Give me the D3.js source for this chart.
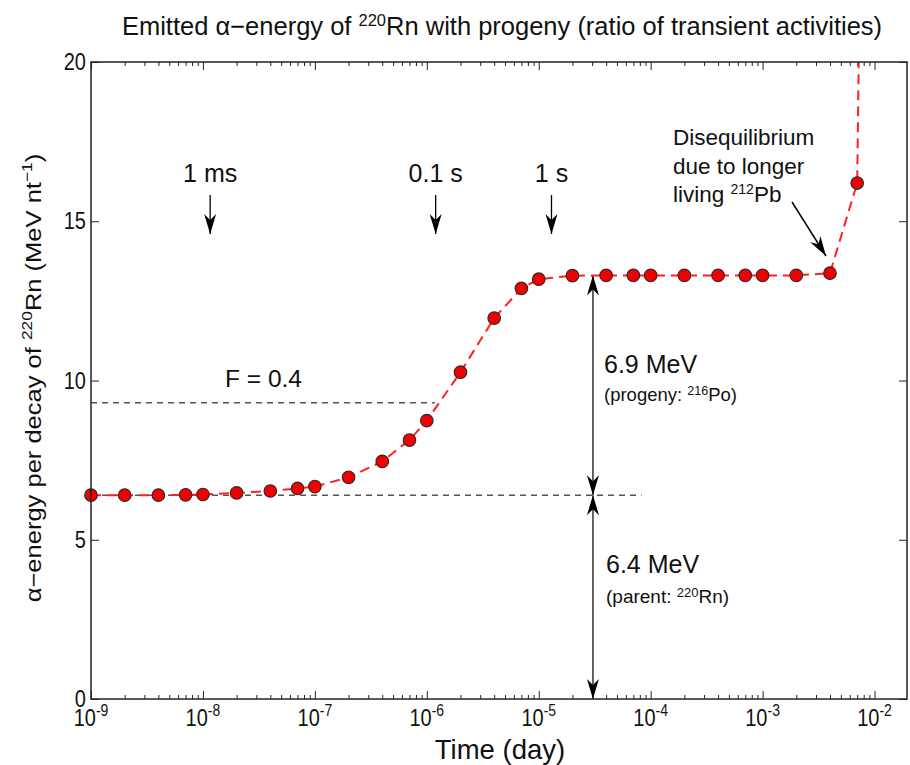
<!DOCTYPE html>
<html><head><meta charset="utf-8">
<script src="https://cdnjs.cloudflare.com/ajax/libs/d3/7.8.5/d3.min.js"></script>
<style>
body{margin:0;background:#fff;}
svg{display:block;}
text{font-family:"Liberation Sans",Arial,sans-serif;fill:#111;}
</style></head>
<body>
<svg id="chart" width="910" height="765"></svg>
<script>
// ---- data ----
const times = [1e-9,2e-9,4e-9,7e-9,1e-8,2e-8,4e-8,7e-8,1e-7,2e-7,4e-7,7e-7,1e-6,2e-6,4e-6,7e-6,1e-5,2e-5,4e-5,7e-5,1e-4,2e-4,4e-4,7e-4,1e-3,2e-3,4e-3,7e-3];
const energy = [6.40,6.40,6.40,6.41,6.42,6.47,6.53,6.61,6.67,6.96,7.46,8.13,8.74,10.26,11.96,12.89,13.18,13.29,13.30,13.30,13.30,13.30,13.30,13.30,13.30,13.30,13.37,16.2];
const tailTimes = [1e-2];
const tailEnergy = [60];
const xTickValues = [1e-9,1e-8,1e-7,1e-6,1e-5,1e-4,1e-3,1e-2];
const xTickExps = ["-9","-8","-7","-6","-5","-4","-3","-2"];
const yTickValues = [0,5,10,15,20];
const timeMarkLabels = ["1 ms","0.1 s","1 s"];
const timeMarkTimes = [1.16e-8, 1.2e-6, 1.3e-5];
const fLevel = 9.3, fEnd = 1.18e-6;
const parentLevel = 6.4, parentEnd = 8.3e-5;
const plateau = 13.3, arrowTime = 3.05e-5;

const svg = d3.select("#chart");
const m = {l:91, r:3, t:62, b:66};
const W = 910, H = 765;
const x = d3.scaleLog().domain([1e-9, 0.0195]).range([m.l, W - m.r]);
const y = d3.scaleLinear().domain([0, 20]).range([H - m.b, m.t]);

const defs = svg.append("defs");
defs.append("clipPath").attr("id","clip").append("rect")
  .attr("x", m.l).attr("y", m.t).attr("width", W-m.r-m.l).attr("height", H-m.b-m.t);
defs.append("marker").attr("id","ahBig").attr("viewBox","0 0 10 10").attr("refX",10).attr("refY",5)
  .attr("markerWidth",20).attr("markerHeight",20).attr("markerUnits","userSpaceOnUse").attr("orient","auto-start-reverse")
  .append("path").attr("d","M0,2 L10,5 L0,8 L3,5 Z").attr("fill","#000");

// title
const title = svg.append("text").attr("x", 502).attr("y", 35).attr("text-anchor","middle").attr("font-size", 25.5);
title.append("tspan").text("Emitted α−energy of ");
title.append("tspan").attr("dy",-9).attr("font-size",16.5).text("220");
title.append("tspan").attr("dy",9).text("Rn with progeny (ratio of transient activities)");

// axes ticks (inside, all sides)
const minor = [];
for (let e=-9; e<=-2; e++) for (let k=2;k<=9;k++){ const v=k*Math.pow(10,e); if (v<=0.0195) minor.push(v); }
svg.append("g").attr("transform",`translate(0,${H-m.b})`).call(d3.axisBottom(x).tickValues(minor).tickSize(-4).tickFormat(""));
svg.append("g").attr("transform",`translate(0,${H-m.b})`).call(d3.axisBottom(x).tickValues(xTickValues).tickSize(-8).tickFormat(""));
svg.append("g").attr("transform",`translate(0,${m.t})`).call(d3.axisTop(x).tickValues(minor).tickSize(-4).tickFormat(""));
svg.append("g").attr("transform",`translate(0,${m.t})`).call(d3.axisTop(x).tickValues(xTickValues).tickSize(-8).tickFormat(""));
const gy = svg.append("g").attr("transform",`translate(${m.l},0)`);
gy.call(d3.axisLeft(y).tickValues(yTickValues).tickSize(-8).tickFormat(""));
svg.append("g").attr("transform",`translate(${W-m.r},0)`).call(d3.axisRight(y).tickValues(yTickValues).tickSize(-8).tickFormat(""));
svg.selectAll(".domain").remove();
svg.selectAll(".tick line").attr("stroke","#222").attr("stroke-width",1);

// y tick labels (DejaVu, slightly tall)
yTickValues.forEach(v=>{
  svg.append("text").attr("transform",`translate(${m.l-5},${y(v)+8}) scale(1,1.18)`)
    .attr("text-anchor","end").attr("font-family","DejaVu Sans, sans-serif").attr("font-size",20).text(v);
});
// x tick labels with superscripts
xTickValues.forEach((v,i)=>{
  const t = svg.append("text").attr("transform",`translate(${x(v)},${H-m.b+27}) scale(1,1.18)`).attr("text-anchor","middle")
    .attr("font-family","DejaVu Sans, sans-serif").attr("font-size",20);
  t.append("tspan").text("10");
  t.append("tspan").attr("dy",-8.5).attr("font-size",14).text(xTickExps[i]);
});

// axis labels
svg.append("text").attr("x", 500).attr("y", 759).attr("text-anchor","middle").attr("font-size",27.5).text("Time (day)");
const yl = svg.append("text").attr("transform","translate(41,378) rotate(-90) scale(1.16,1)").attr("text-anchor","middle").attr("font-size",22);
yl.append("tspan").text("α−energy per decay of ");
yl.append("tspan").attr("dy",-9).attr("font-size",15).text("220");
yl.append("tspan").attr("dy",9).text("Rn (MeV nt");
yl.append("tspan").attr("dy",-9).attr("font-size",15).text("−1");
yl.append("tspan").attr("dy",9).text(")");

// reference dashed lines
const gray = "#555";
svg.append("line").attr("x1", x(1e-9)).attr("x2", x(fEnd)).attr("y1", y(fLevel)).attr("y2", y(fLevel))
  .attr("stroke",gray).attr("stroke-width",1.5).attr("stroke-dasharray","6,5");
svg.append("line").attr("x1", x(1e-9)).attr("x2", x(parentEnd)).attr("y1", y(parentLevel)).attr("y2", y(parentLevel))
  .attr("stroke",gray).attr("stroke-width",1.5).attr("stroke-dasharray","6,5");

// double arrows
[[plateau,parentLevel],[parentLevel,0]].forEach(([a,b])=>{
  svg.append("line").attr("x1", x(arrowTime)).attr("x2", x(arrowTime)).attr("y1", y(a)).attr("y2", y(b))
    .attr("stroke","#333").attr("stroke-width",1.5).attr("marker-start","url(#ahBig)").attr("marker-end","url(#ahBig)");
});

// data line + markers
const pts = times.map((t,i)=>[t, energy[i]]);
const linePts = pts.concat(tailTimes.map((t,i)=>[t, tailEnergy[i]]));
svg.append("g").attr("clip-path","url(#clip)").append("path").datum(linePts)
  .attr("d", d3.line().x(d=>x(d[0])).y(d=>y(d[1])))
  .attr("fill","none").attr("stroke","#ff2020").attr("stroke-width",2).attr("stroke-dasharray","10,6");
svg.append("g").selectAll("circle").data(pts).join("circle")
  .attr("cx", d=>x(d[0])).attr("cy", d=>y(d[1])).attr("r",6.3)
  .attr("fill","#f00000").attr("stroke","#2a2a2a").attr("stroke-width",1.1);

// frame
svg.append("rect").attr("x", m.l).attr("y", m.t).attr("width", W-m.r-m.l).attr("height", H-m.b-m.t)
  .attr("fill","none").attr("stroke","#222").attr("stroke-width",1.5);

// time marks
timeMarkLabels.forEach((lab,i)=>{
  const cx = x(timeMarkTimes[i]);
  svg.append("text").attr("x", cx).attr("y", 182).attr("text-anchor","middle").attr("font-size",25).text(lab);
  svg.append("line").attr("x1", cx).attr("x2", cx).attr("y1", 195).attr("y2", 234)
    .attr("stroke","#000").attr("stroke-width",1.3).attr("marker-end","url(#ahBig)");
});

// F label
svg.append("text").attr("x", 225).attr("y", 387).attr("font-size",24.5).text("F = 0.4");

// MeV labels
svg.append("text").attr("x", 604).attr("y", 373).attr("font-size",25).text("6.9 MeV");
const pr = svg.append("text").attr("x", 604).attr("y", 401).attr("font-size",18.5);
pr.append("tspan").text("(progeny: ");
pr.append("tspan").attr("dy",-6).attr("font-size",12.5).text("216");
pr.append("tspan").attr("dy",6).text("Po)");
svg.append("text").attr("x", 606).attr("y", 573).attr("font-size",25).text("6.4 MeV");
const pa = svg.append("text").attr("x", 606).attr("y", 603).attr("font-size",19);
pa.append("tspan").text("(parent: ");
pa.append("tspan").attr("dy",-6).attr("font-size",13).text("220");
pa.append("tspan").attr("dy",6).text("Rn)");

// disequilibrium annotation
const dq = svg.append("text").attr("font-size",22.5);
dq.append("tspan").attr("x",673).attr("y",145).text("Disequilibrium");
dq.append("tspan").attr("x",673).attr("y",174).text("due to longer");
const l3 = svg.append("text").attr("x",673).attr("y",202).attr("font-size",22.5);
l3.append("tspan").text("living ");
l3.append("tspan").attr("dy",-8).attr("font-size",14).text("212");
l3.append("tspan").attr("dy",8).text("Pb");
svg.append("line").attr("x1",792).attr("y1",202).attr("x2",826).attr("y2",256)
  .attr("stroke","#000").attr("stroke-width",1.5).attr("marker-end","url(#ahBig)");
</script>
</body></html>
